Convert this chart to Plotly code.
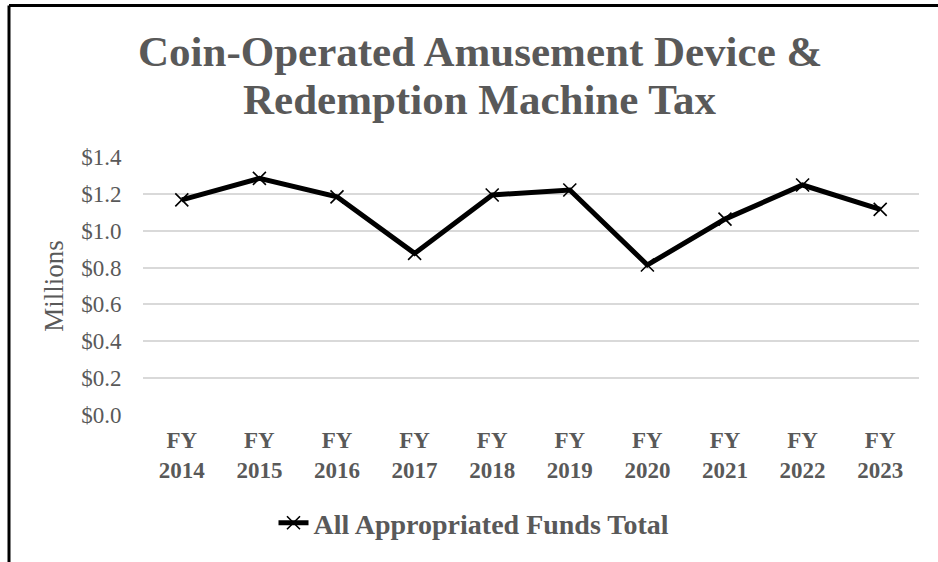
import plotly.graph_objects as go

categories = ["FY<br>2014", "FY<br>2015", "FY<br>2016", "FY<br>2017", "FY<br>2018",
              "FY<br>2019", "FY<br>2020", "FY<br>2021", "FY<br>2022", "FY<br>2023"]
values = [1.167, 1.284, 1.184, 0.877, 1.194, 1.221, 0.814, 1.063, 1.248, 1.116]
y_ticks = [0.0, 0.2, 0.4, 0.6, 0.8, 1.0, 1.2, 1.4]
y_tick_labels = ["$0.0", "$0.2", "$0.4", "$0.6", "$0.8", "$1.0", "$1.2", "$1.4"]
series_name = "All Appropriated Funds Total"
title_lines = ["Coin-Operated Amusement Device &", "Redemption Machine Tax"]

W, H = 938, 562
L, R, T, B = 143, 19, 157, 147
pw, ph = W - L - R, H - T - B
gray = "#595959"
font = "Liberation Serif"

fig = go.Figure()
fig.add_trace(go.Scatter(
    x=categories, y=values, name=series_name, mode="lines+markers",
    line=dict(color="black", width=5),
    marker=dict(symbol="x-thin", size=13, line=dict(color="black", width=1.6)),
))

def px_x(p):
    return (p - L) / pw

def px_y(p):
    return (H - B - p) / ph

# partial outer border (top and left visible)
fig.add_shape(type="line", xref="paper", yref="paper",
              x0=px_x(9), x1=px_x(945), y0=px_y(5.5), y1=px_y(5.5),
              line=dict(color="black", width=3))
fig.add_shape(type="line", xref="paper", yref="paper",
              x0=px_x(9), x1=px_x(9), y0=px_y(5.5), y1=px_y(570),
              line=dict(color="black", width=3))

for txt, yc in zip(title_lines, [52, 99]):
    fig.add_annotation(text="<b>" + txt + "</b>", xref="paper", yref="paper",
                       x=px_x(480), y=px_y(yc), xanchor="center", yanchor="middle",
                       showarrow=False, font=dict(size=43, color=gray, family=font))

fig.update_layout(
    width=W, height=H,
    margin=dict(l=L, r=R, t=T, b=B),
    paper_bgcolor="white", plot_bgcolor="white",
    font=dict(family=font, color=gray),
    xaxis=dict(type="category", showgrid=False, zeroline=False, showline=False,
               tickfont=dict(size=23, color=gray, family=font, weight="bold"),
               ticks="outside", ticklen=4, tickcolor="rgba(0,0,0,0)",
               range=[-0.5, len(categories) - 0.5]),
    yaxis=dict(range=[0, 1.4], tickvals=y_ticks, ticktext=y_tick_labels,
               showgrid=True, gridcolor="#d9d9d9", gridwidth=2, zeroline=False,
               showline=False,
               tickfont=dict(size=23, color=gray, family=font),
               ticks="outside", ticklen=16, tickcolor="rgba(0,0,0,0)",
               title=dict(text="Millions", font=dict(size=27, color=gray, family=font),
                          standoff=9)),
    showlegend=True,
    legend=dict(orientation="h", xref="container", yref="container",
                x=474 / W, xanchor="center", y=1 - 523 / H, yanchor="middle",
                font=dict(size=28, color=gray, family=font, weight="bold")),
)

fig.write_html("out.html", config={"displayModeBar": False},
               post_script="document.body.style.margin='0';")
